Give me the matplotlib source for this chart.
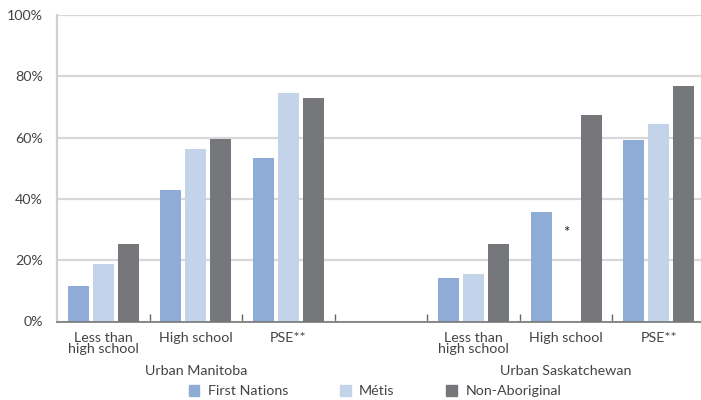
import numpy as np
import matplotlib.pyplot as plt
from matplotlib.patches import Patch

plt.rcParams['font.family'] = ['Lato', 'DejaVu Sans']

# data (percent)
categories = ['Less than\nhigh school', 'High school', 'PSE**',
              'Less than\nhigh school', 'High school', 'PSE**']
regions = ['Urban Manitoba', 'Urban Saskatchewan']
series = ['First Nations', 'Métis', 'Non-Aboriginal']
first_nations = [11.5, 42.9, 53.4, 14.1, 35.6, 59.2]
metis = [18.7, 56.2, 74.4, 15.6, np.nan, 64.4]
non_aboriginal = [25.2, 59.7, 72.8, 25.4, 67.3, 76.8]
colors = ['#8eacd6', '#c2d3ea', '#76777b']

# slot positions, with an empty slot between the two regions
pos = np.array([0, 1, 2, 4, 5, 6])

fig = plt.figure(figsize=(7.01, 4.0), dpi=100)
ax = fig.add_axes([57/701, 1 - 321.5/400, 648/701, 306.5/400])

w = 0.227
step = 0.27
for k, vals in enumerate([first_nations, metis, non_aboriginal]):
    ax.bar(pos + (k - 1) * step, vals, width=w, color=colors[k], zorder=3)

# suppressed value marker
ax.text(pos[4], 29, '*', ha='center', va='center', fontsize=11, color='#222222')

fs = 10.3
ax.set_xlim(-0.5, 6.5)
ax.set_ylim(0, 100)
ax.set_yticks(np.arange(0, 101, 20))
ax.set_yticklabels([f'{v}%' for v in range(0, 101, 20)], fontsize=fs, color='#444444')
ax.yaxis.grid(True, color='#d8d8d8', linewidth=1.6, zorder=0)
ax.tick_params(axis='y', length=0, pad=10)

ax.set_xticks(np.arange(0.5, 6, 1))
ax.set_xticklabels([])
ax.tick_params(axis='x', direction='in', length=6, color='#666666', width=1)
for p, lab in zip(pos, categories):
    ax.text(p, -3.5, lab, ha='center', va='top', fontsize=fs, color='#444444',
            linespacing=0.9, clip_on=False)
for p, lab in zip([1, 5], regions):
    ax.text(p, -14.3, lab, ha='center', va='top', fontsize=fs, color='#444444',
            clip_on=False)

for s in ['top', 'right']:
    ax.spines[s].set_visible(False)
ax.spines['left'].set_color('#d0d0d0')
ax.spines['left'].set_linewidth(1.6)
ax.spines['bottom'].set_color('#777777')
ax.spines['bottom'].set_linewidth(1.2)
ax.spines['bottom'].set_zorder(4)

handles = [Patch(color=c, label=s) for c, s in zip(colors, series)]
fig.legend(handles=handles, loc='center', bbox_to_anchor=(0.535, 0.022), ncol=3,
           frameon=False, fontsize=fs, handlelength=0.75, handleheight=0.75,
           columnspacing=3.6, handletextpad=0.6, labelcolor='#444444')

fig.savefig('out.png', dpi=100)
